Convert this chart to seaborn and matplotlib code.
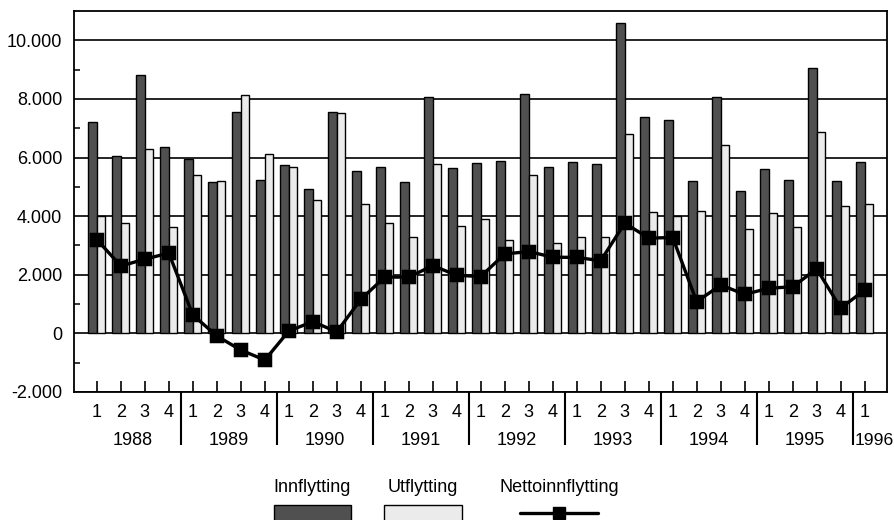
import numpy as np
import pandas as pd
import matplotlib as mpl
import matplotlib.pyplot as plt
from matplotlib.patches import Patch
from matplotlib.lines import Line2D
import matplotlib.ticker as mticker
import seaborn as sb

mpl.use('Agg')

# quarterly data, 1988Q1 - 1996Q1
years = ['1988', '1989', '1990', '1991', '1992', '1993', '1994', '1995', '1996']
quarter_labels = ['1', '2', '3', '4'] * 8 + ['1']

innflytting = [7200, 6050, 8800, 6370,
               5960, 5150, 7560, 5230,
               5760, 4930, 7560, 5540,
               5680, 5150, 8070, 5630,
               5800, 5890, 8160, 5670,
               5850, 5770, 10580, 7370,
               7290, 5210, 8070, 4860,
               5620, 5220, 9040, 5200,
               5850]
utflytting = [4010, 3760, 6290, 3630,
              5420, 5210, 8130, 6120,
              5670, 4550, 7510, 4400,
              3780, 3280, 5780, 3650,
              3900, 3200, 5390, 3070,
              3290, 3280, 6810, 4130,
              3990, 4180, 6430, 3570,
              4100, 3640, 6860, 4330,
              4420]
netto = [3200, 2300, 2530, 2740,
         630, -90, -570, -910,
         80, 400, 50, 1160,
         1920, 1920, 2310, 1980,
         1940, 2710, 2790, 2600,
         2590, 2480, 3760, 3250,
         3270, 1080, 1650, 1330,
         1540, 1590, 2200, 860,
         1480]

dark = '#505050'
light = '#ebebeb'
fs = 13

sb.set_theme(style='white')
plt.rcParams['font.family'] = ['Liberation Sans', 'DejaVu Sans']
plt.rcParams['font.size'] = fs
plt.rcParams['text.color'] = 'black'
plt.rcParams['xtick.color'] = 'black'
plt.rcParams['ytick.color'] = 'black'

# one row per quarter and series
qid = ['{}-{}'.format(i, q) for i, q in enumerate(quarter_labels)]
df = pd.DataFrame({
    'kvartal': qid * 2,
    'verdi': innflytting + utflytting,
    'serie': ['Innflytting'] * len(qid) + ['Utflytting'] * len(qid),
})

fig = plt.figure(figsize=(8.94, 5.2), dpi=100)
ax = fig.add_axes([0.0828, 0.2462, 0.9094, 0.7327])
ax.set_axisbelow(True)

sb.barplot(data=df, x='kvartal', y='verdi', hue='serie', order=qid,
           palette=[dark, light], edgecolor='black', linewidth=1.0,
           width=0.72, legend=False, ax=ax)
sb.pointplot(x=qid, y=netto, order=qid, color='black', markers='s',
             linestyles='-', errorbar=None, markersize=9, linewidth=2.4, ax=ax)

ax.set_xlim(-0.95, 32.93)
ax.set_ylim(-2000, 11000)
ax.set_xlabel('')
ax.set_ylabel('')

ax.set_yticks(np.arange(-2000, 10001, 2000))
ax.set_yticks(np.arange(-1000, 11000, 2000), minor=True)
ax.yaxis.set_major_formatter(mticker.FuncFormatter(
    lambda v, p: '{:,.0f}'.format(v).replace(',', '.')))
ax.grid(axis='y', color='black', linewidth=1.2)
ax.grid(axis='x', visible=False)

ax.set_xticks(range(len(qid)))
ax.set_xticklabels(quarter_labels)
ax.set_xticks(np.arange(3.5, 32, 4), minor=True)

ax.tick_params(axis='y', which='major', length=0, pad=8.5, labelsize=fs)
ax.tick_params(axis='y', which='minor', left=True, direction='in',
               length=4.5, width=1.1, color='black')
ax.tick_params(axis='x', which='major', bottom=True, direction='in',
               length=8, width=1.2, color='black', pad=9, labelsize=fs)
ax.tick_params(axis='x', which='minor', bottom=True, direction='out',
               length=38, width=1.5, color='black')

for s in ax.spines.values():
    s.set_color('black')
    s.set_linewidth(1.3)

# year labels under the quarters
trans = mpl.transforms.blended_transform_factory(ax.transData, ax.transAxes)
for i, y in enumerate(years[:-1]):
    ax.text(4 * i + 1.5, -0.128, y, transform=trans, ha='center', va='center',
            fontsize=fs)
ax.text(31.56, -0.128, years[-1], transform=trans, ha='left', va='center',
        fontsize=12.6)

# legend, one block per series with the name above the key
leg_items = [
    (Patch(facecolor=dark, edgecolor='black', linewidth=1.0), 'Innflytting', 0.3496),
    (Patch(facecolor=light, edgecolor='black', linewidth=1.0), 'Utflytting', 0.4732),
    (Line2D([], [], color='black', marker='s', lw=2.4, ms=9), 'Nettoinnflytting', 0.6253),
]
for h, name, cx in leg_items:
    fig.legend(handles=[h], labels=[''], title=name, loc='upper center',
               bbox_to_anchor=(cx, 1 - 479 / 520), frameon=False,
               borderpad=0, borderaxespad=0, handletextpad=0,
               handlelength=4.3, handleheight=1.3, title_fontsize=fs,
               fontsize=fs)

fig.savefig('out.png', dpi=100)
